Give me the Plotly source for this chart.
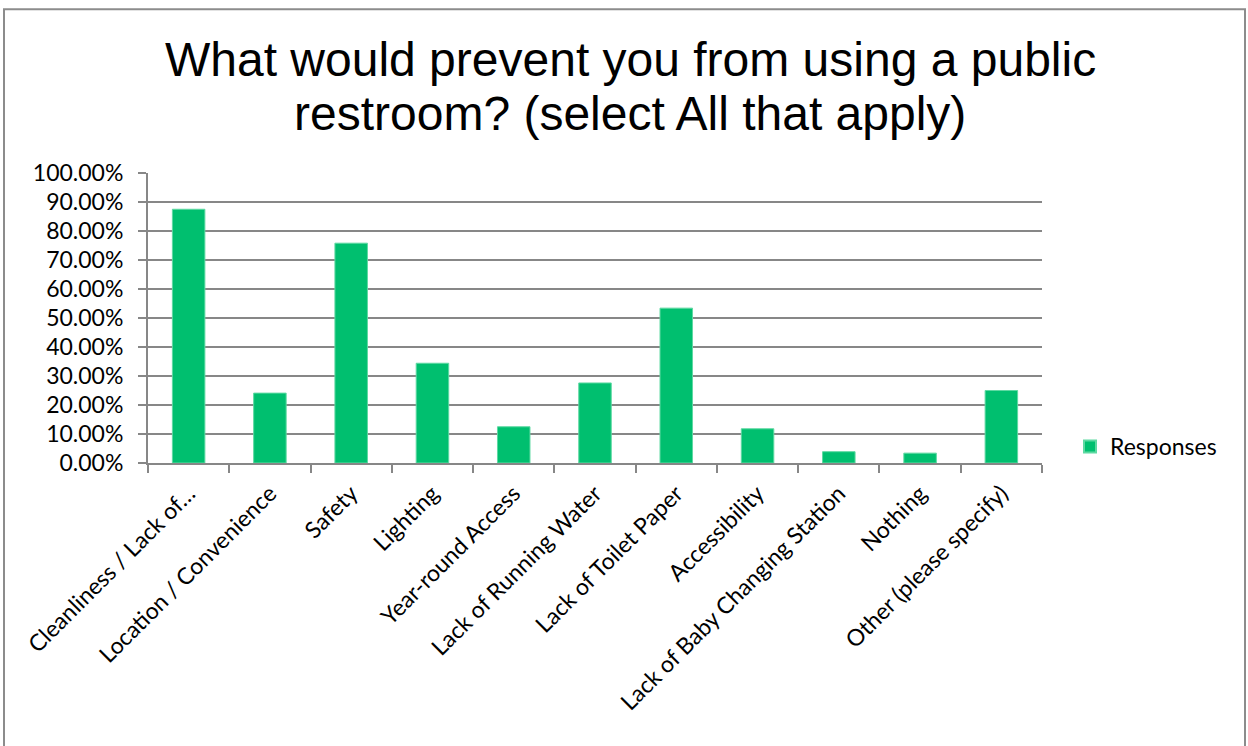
import plotly.graph_objects as go

categories = [
    "Cleanliness / Lack of…",
    "Location / Convenience",
    "Safety",
    "Lighting",
    "Year-round Access",
    "Lack of Running Water",
    "Lack of Toilet Paper",
    "Accessibility",
    "Lack of Baby Changing Station",
    "Nothing",
    "Other (please specify)",
]
responses = [0.875, 0.241, 0.758, 0.344, 0.125, 0.276, 0.534, 0.118, 0.039, 0.034, 0.250]
y_ticks = [0.0, 0.1, 0.2, 0.3, 0.4, 0.5, 0.6, 0.7, 0.8, 0.9, 1.0]

TITLE_LINES = ["What would prevent you from using a public", "restroom? (select All that apply)"]
GRID = "#878787"
LABEL_FONT = dict(family="Lato, Open Sans, sans-serif", size=23, color="#000000")
TITLE_FONT = dict(family="Liberation Sans, Arial, sans-serif", size=48, color="#000000")

fig = go.Figure()
fig.add_trace(go.Bar(
    x=categories,
    y=responses,
    name="Responses",
    marker=dict(color="#00BF6F", line=dict(color="#5ED9A2", width=1)),
))

# plot area in pixels: x 148..1042, y 173..463.5
L, R, T, B = 148, 1042, 173, 463.5
W, H = 1248, 746
pw, ph = R - L, B - T

def px_x(p):
    return (p - L) / pw

def px_y(p):
    return (B - p) / ph

annotations = []
for line, yc in zip(TITLE_LINES, [59, 113]):
    annotations.append(dict(
        text=line,
        xref="paper", yref="paper",
        x=px_x(630), y=px_y(yc),
        xanchor="center", yanchor="middle",
        showarrow=False,
        font=TITLE_FONT,
    ))

fig.update_layout(
    width=W,
    height=H,
    margin=dict(l=L, r=W - R, t=T, b=H - B),
    paper_bgcolor="white",
    plot_bgcolor="white",
    bargap=0.6,
    annotations=annotations,
    showlegend=True,
    legend=dict(
        x=px_x(1070),
        xanchor="left",
        y=px_y(447),
        yanchor="middle",
        font=LABEL_FONT,
        bgcolor="rgba(0,0,0,0)",
        itemsizing="constant",
        itemwidth=30,
    ),
    xaxis=dict(
        type="category",
        tickangle=-45,
        tickfont=LABEL_FONT,
        showline=True,
        linecolor=GRID,
        linewidth=2,
        ticks="outside",
        tickson="boundaries",
        ticklen=8,
        tickwidth=2,
        tickcolor=GRID,
        showgrid=False,
        range=[-0.5, len(categories) - 0.5],
        ticklabelstandoff=6,
    ),
    yaxis=dict(
        range=[0, 1.0],
        tickvals=y_ticks,
        tickformat=".2%",
        tickfont=LABEL_FONT,
        showline=True,
        linecolor=GRID,
        linewidth=2,
        ticks="outside",
        ticklen=8,
        tickwidth=2,
        tickcolor=GRID,
        showgrid=True,
        gridcolor=GRID,
        gridwidth=2,
        zeroline=False,
        ticklabelstandoff=10,
    ),
    shapes=[
        dict(
            type="rect",
            xref="paper",
            yref="paper",
            x0=px_x(4),
            x1=px_x(1245),
            y0=px_y(760),
            y1=px_y(9),
            line=dict(color="#8C8C8C", width=2),
            fillcolor="rgba(0,0,0,0)",
            layer="below",
        )
    ],
)

fig.write_html("out.html")
